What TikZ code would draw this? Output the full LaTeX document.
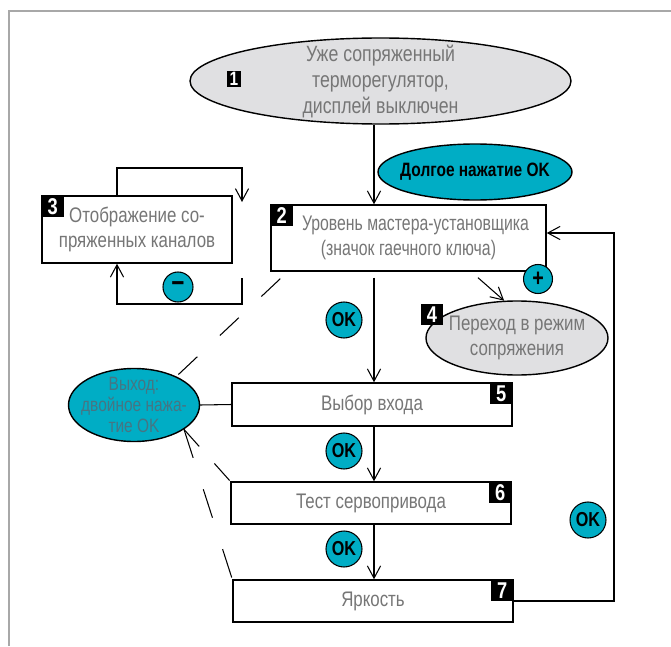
\documentclass[tikz,border=0pt]{standalone}
\usepackage{fontspec}
\setmainfont{Liberation Sans}[FakeStretch=0.8]
\newfontfamily\narrowfont{Liberation Sans}[FakeStretch=0.75]
\usetikzlibrary{shapes.geometric,arrows.meta}
\definecolor{btnteal}{HTML}{00ADC5}
\definecolor{ovalgray}{HTML}{E0E0E2}
\definecolor{txtgray}{HTML}{767676}
\definecolor{exitgray}{HTML}{467583}
\definecolor{framegray}{HTML}{A8A8A8}
\begin{document}
\begin{tikzpicture}[line width=0.6pt, >={Straight Barb[length=7pt,width=7.5pt]},
    stepbox/.style={draw, line width=0.8pt, fill=white, text=txtgray, align=center, inner sep=0pt, font=\fontsize{12}{14.2}\selectfont},
    oval/.style={ellipse, draw, line width=0.8pt, inner xsep=-1.2cm, inner ysep=-0.6cm, align=center},
    numbox/.style={fill=black, text=white, inner sep=0pt, minimum width=0.44cm, minimum height=0.42cm, font=\bfseries\fontsize{13}{13}\selectfont},
    okbtn/.style={circle, draw, fill=btnteal, inner sep=0pt, minimum size=0.72cm, font=\bfseries\fontsize{11.5}{11.5}\selectfont}]
    \useasboundingbox (0,0) rectangle (13.42,12.92);
    \draw[framegray] (0.18,0) -- (0.18,12.70) -- (13.42,12.70);
    % states
    \node[oval, fill=ovalgray, text=txtgray, minimum width=7.62cm, minimum height=1.72cm, font=\fontsize{12.6}{14.8}\selectfont] (e1) at (7.61,11.30) {Уже сопряженный\\терморегулятор,\\дисплей выключен};
    \node[numbox, minimum width=0.28cm, minimum height=0.32cm, font=\bfseries\fontsize{11}{11}\selectfont] (n1) at (4.68,11.34) {1};
    \node[oval, fill=btnteal, minimum width=3.88cm, minimum height=1.12cm, font=\bfseries\fontsize{11}{11}\selectfont] (long) at (9.50,9.48) {Долгое нажатие OK};
    \node[stepbox, minimum width=5.50cm, minimum height=1.32cm, font=\narrowfont\fontsize{12}{14.2}\selectfont] (b2) at (8.17,8.16) {\hspace*{0.28cm}Уровень мастера-установщика\\(значок гаечного ключа)};
    \node[numbox, anchor=north west] (n2) at (b2.north west) {2};
    \node[stepbox, minimum width=3.80cm, minimum height=1.34cm] (b3) at (2.74,8.33) {Отображение со-\\пряженных каналов};
    \node[numbox, anchor=north west] (n3) at (b3.north west) {3};
    \node[oval, fill=ovalgray, text=txtgray, minimum width=3.64cm, minimum height=1.48cm, font=\fontsize{12}{14}\selectfont] (e4) at (10.34,6.16) {Переход в режим\\сопряжения};
    \node[numbox] (n4) at (8.64,6.63) {4};
    \node[stepbox, minimum width=5.60cm, minimum height=0.86cm] (b5) at (7.44,4.83) {Выбор входа};
    \node[numbox, anchor=north east] (n5) at (b5.north east) {5};
    \node[stepbox, minimum width=5.60cm, minimum height=0.84cm] (b6) at (7.42,2.86) {Тест сервопривода};
    \node[numbox, anchor=north east] (n6) at (b6.north east) {6};
    \node[stepbox, minimum width=5.60cm, minimum height=0.84cm] (b7) at (7.46,0.90) {Яркость};
    \node[numbox, anchor=north east] (n7) at (b7.north east) {7};
    \node[oval, fill=btnteal, text=exitgray, minimum width=2.62cm, minimum height=1.46cm, font=\fontsize{11}{12}\selectfont] (ex) at (2.68,4.82) {Выход:\\двойное нажа-\\тие OK};
    % buttons
    \node[okbtn] (ok1) at (6.88,6.52) {OK};
    \node[okbtn] (ok2) at (6.88,3.90) {OK};
    \node[okbtn] (ok3) at (6.88,1.94) {OK};
    \node[okbtn] (ok4) at (11.76,2.52) {OK};
    \node[okbtn, minimum size=0.60cm, font=\bfseries\fontsize{16}{16}\selectfont] (minus) at (3.56,7.18) {−};
    \node[okbtn, minimum size=0.58cm, font=\bfseries\fontsize{14}{14}\selectfont] (plus) at (10.76,7.34) {+};
    % main chain
    \coordinate (axis) at (7.48,0);
    \coordinate (ret) at (12.28,0);
    \draw[->] (e1.south -| axis) -- (b2.north -| axis);
    \path (b2.south -| axis) ++(0,-0.12) coordinate (b2out);
    \draw[->] (b2out) -- (b5.north -| axis);
    \draw[->] (b5.south -| axis) -- (b6.north -| axis);
    \draw[->] (b6.south -| axis) -- (b7.north -| axis);
    \path (b2.south) ++(1.39,-0.12) coordinate (b2plus);
    \draw[->] (b2plus) -- (e4.109);
    \path (b2.east) ++(0,0.1) coordinate (b2in);
    \draw[->] (b7.east) -- (b7.east -| ret) |- (b2in);
    % loop round 3
    \coordinate (la) at (2.34,9.56);
    \coordinate (lb) at (4.84,9.56);
    \coordinate (lc) at (4.84,8.88);
    \draw[->] (b3.north -| la) -- (la) -- (lb) -- (lc);
    \coordinate (ld) at (4.84,7.36);
    \coordinate (le) at (4.84,6.84);
    \coordinate (lf) at (2.34,6.84);
    \draw[->] (ld) -- (le) -- (lf) -- (b3.south -| lf);
    % exit
    \draw (ex.east) -- (b5.west);
    \path (b2.south west) ++(0.2,-0.14) coordinate (b2exit);
    \draw[dash pattern=on 14.8pt off 17.6pt] (b2exit) -- (ex.34);
    \draw[dash pattern=on 13pt off 13pt] (ex.334) -- (b6.north west);
    \draw[dash pattern=on 17pt off 18.8pt] (ex.334) -- (b7.north west);
\end{tikzpicture}
\end{document}
